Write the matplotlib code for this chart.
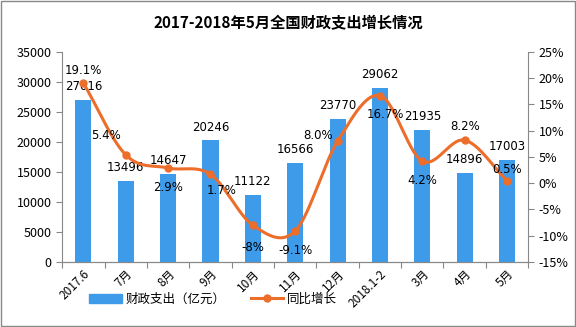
import numpy as np
import matplotlib
matplotlib.use('Agg')
import matplotlib.pyplot as plt
from matplotlib.ticker import FuncFormatter
from matplotlib.patches import Patch
from matplotlib.lines import Line2D

plt.rcParams['font.family'] = ['Noto Sans CJK SC', 'DejaVu Sans']

# Data
months = ['2017.6', '7月', '8月', '9月', '10月', '11月', '12月', '2018.1-2', '3月', '4月', '5月']
spending = [27016, 13496, 14647, 20246, 11122, 16566, 23770, 29062, 21935, 14896, 17003]
growth = [19.1, 5.4, 2.9, 1.7, -8.0, -9.1, 8.0, 16.7, 4.2, 8.2, 0.5]
growth_labels = ['19.1%', '5.4%', '2.9%', '1.7%', '-8%', '-9.1%', '8.0%', '16.7%', '4.2%', '8.2%', '0.5%']
# label offsets in points (dx, dy)
growth_offsets = [(0, 9), (-14, 14), (0, -14), (8, -12), (0, -16), (0, -14), (-14, 4), (4, -14), (0, -14), (0, 10), (0, 8)]

blue = '#3d9bea'
orange = '#ed6d2b'

fig = plt.figure(figsize=(5.76, 3.27), dpi=100)
ax = fig.add_axes([0.108, 0.199, 0.809, 0.642])
ax2 = ax.twinx()

x = np.arange(len(months))
ax.bar(x, spending, width=0.38, color=blue, zorder=2)
for xi, v in zip(x, spending):
    ax.annotate(str(v), (xi, v), xytext=(0, 5), textcoords='offset points',
                ha='center', va='bottom', fontsize=8.5, family='DejaVu Sans')

# smoothed line (Catmull-Rom through the data points, like Excel)
px = np.array(x, dtype=float)
py = np.array(growth, dtype=float)
ext_x = np.concatenate([[2 * px[0] - px[1]], px, [2 * px[-1] - px[-2]]])
ext_y = np.concatenate([[2 * py[0] - py[1]], py, [2 * py[-1] - py[-2]]])
sx, sy = [], []
t = np.linspace(0, 1, 30)
for i in range(1, len(ext_x) - 2):
    for arr, out in ((ext_x, sx), (ext_y, sy)):
        p0, p1, p2, p3 = arr[i - 1], arr[i], arr[i + 1], arr[i + 2]
        out.extend(0.5 * ((2 * p1) + (-p0 + p2) * t + (2 * p0 - 5 * p1 + 4 * p2 - p3) * t ** 2
                          + (-p0 + 3 * p1 - 3 * p2 + p3) * t ** 3))
ax2.plot(sx, sy, color=orange, lw=2.2, zorder=3)
ax2.plot(px, py, 'o', color=orange, ms=5, zorder=4)
for xi, v, lab, off in zip(x, growth, growth_labels, growth_offsets):
    ax2.annotate(lab, (xi, v), xytext=off, textcoords='offset points',
                 ha='center', va='center', fontsize=8.5, family='DejaVu Sans')

ax.set_xlim(-0.5, len(months) - 0.5)
ax.set_ylim(0, 35000)
ax.set_yticks(range(0, 35001, 5000))
ax2.set_ylim(-15, 25)
ax2.set_yticks(range(-15, 26, 5))
ax2.yaxis.set_major_formatter(FuncFormatter(lambda v, p: f'{int(v)}%'))

ax.set_xticks(np.arange(len(months) + 1) - 0.5, minor=False)
ax.set_xticklabels([])
ax.set_xticks(x, minor=True)
ax.set_xticklabels(months, minor=True, rotation=45, ha='right', rotation_mode='anchor', fontsize=8.5)
ax.tick_params(axis='x', which='minor', length=0, pad=4)
ax.tick_params(axis='x', which='major', length=4, color='#888888')

for a in (ax, ax2):
    a.spines['top'].set_visible(False)
    a.spines['left'].set_color('#888888')
    a.spines['right'].set_color('#888888')
    a.spines['bottom'].set_color('#888888')
    a.tick_params(axis='y', labelsize=9, color='#888888', length=4)
ax.spines['right'].set_visible(False)
ax2.spines['left'].set_visible(False)

fig.text(0.5, 0.93, '2017-2018年5月全国财政支出增长情况', ha='center', va='center',
         fontsize=11, fontweight='bold')

handles = [Patch(color=blue), Line2D([0], [0], color=orange, lw=2.2, marker='o', ms=5)]
fig.legend(handles, ['财政支出（亿元）', '同比增长'], loc='center', bbox_to_anchor=(0.37, 0.085),
           ncol=2, frameon=False, fontsize=9, handlelength=2.6, columnspacing=2, handletextpad=0.3)

fig.patches.append(plt.Rectangle((0.001, 0.002), 0.997, 0.995, transform=fig.transFigure,
                                 fill=False, edgecolor='#888888', lw=1))

fig.savefig('out.png', dpi=100)
